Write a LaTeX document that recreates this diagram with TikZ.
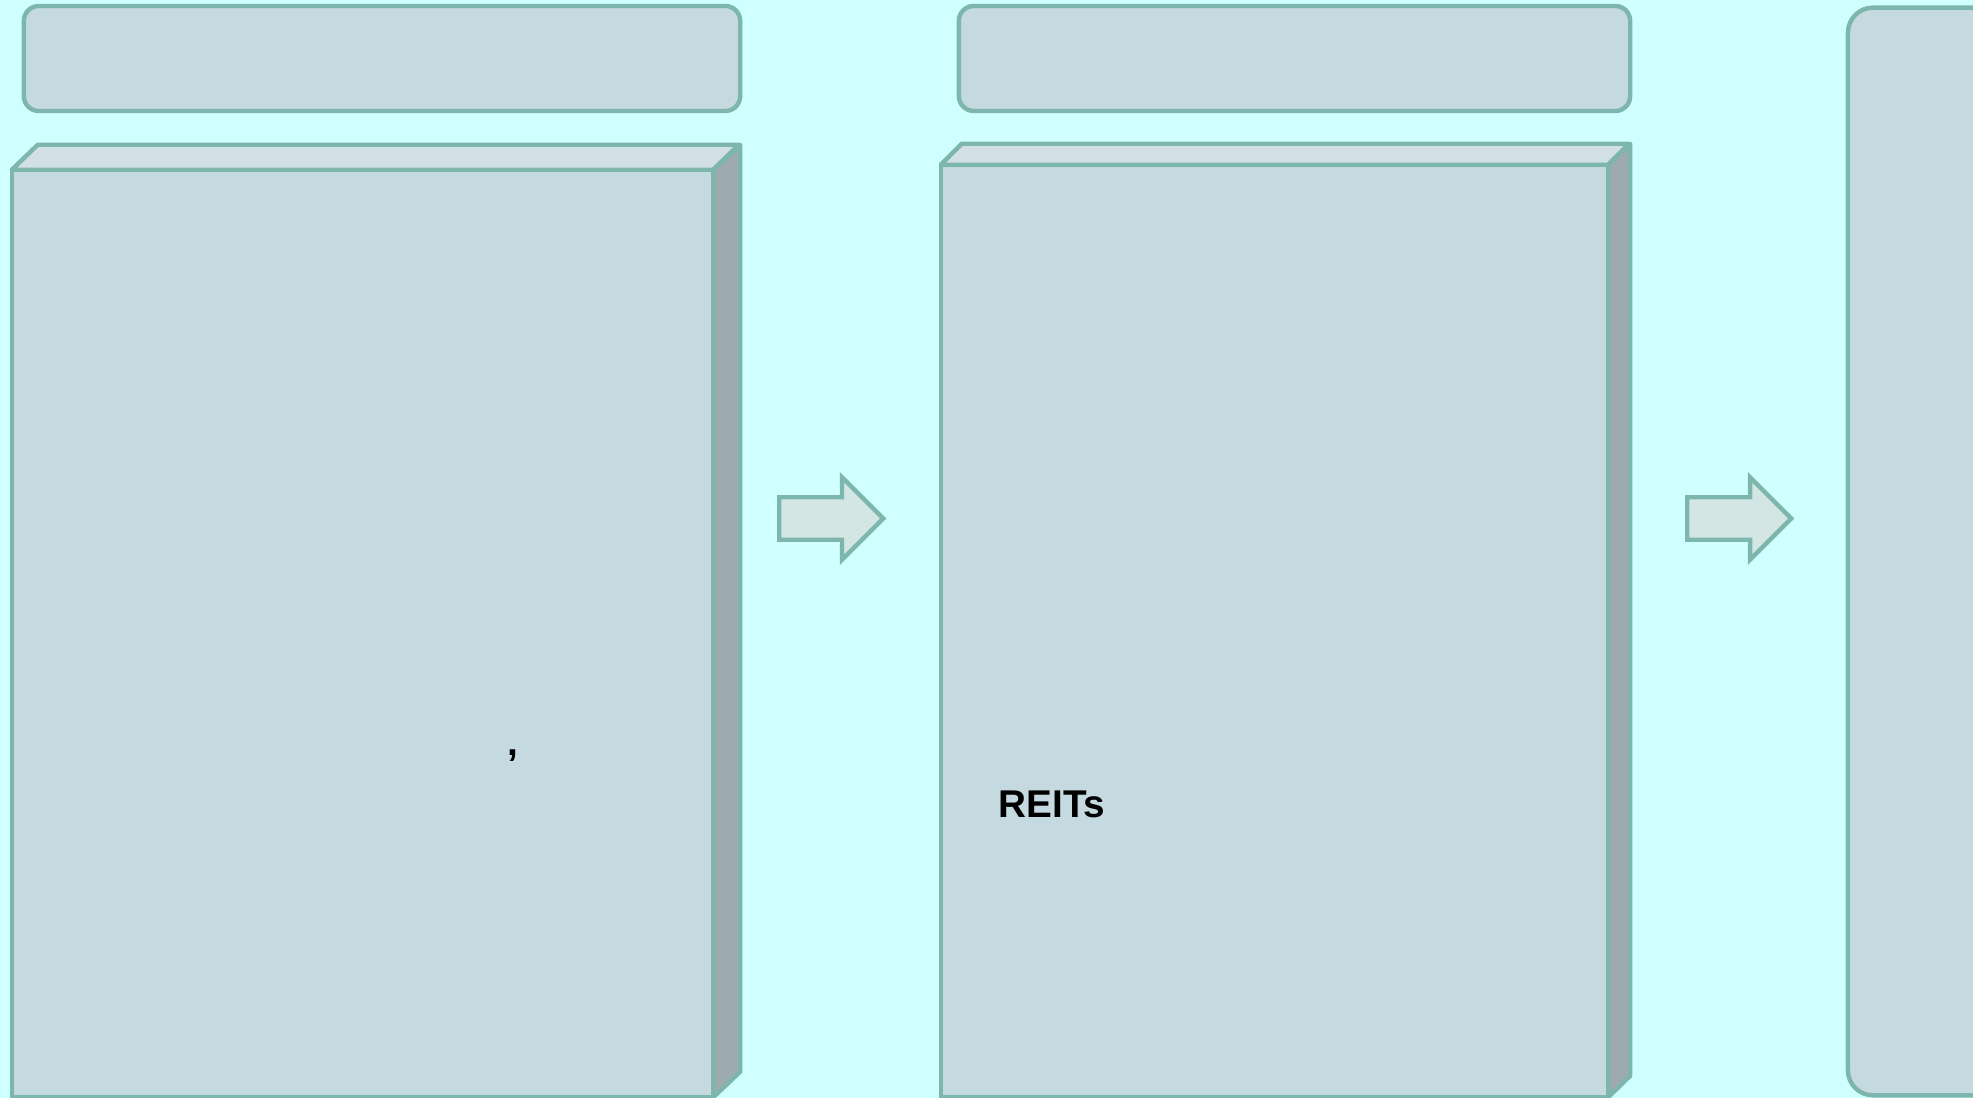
\documentclass[tikz,border=0pt]{standalone}
\usepackage{fontspec}
\setmainfont{Liberation Sans}
\usetikzlibrary{positioning}
\usetikzlibrary{shapes.arrows}
\definecolor{bgcyan}{RGB}{208,255,255}
\definecolor{boxblue}{RGB}{197,217,224}
\definecolor{topblue}{RGB}{210,223,229}
\definecolor{sidegrey}{RGB}{157,171,176}
\definecolor{edgegreen}{RGB}{125,182,172}
\definecolor{arrowfill}{RGB}{212,230,228}
\tikzset{
	head box/.style={rectangle,draw=edgegreen,fill=boxblue,line width=1.25pt,
		rounded corners=0.15cm,outer sep=0pt},
	front face/.style={rectangle,draw=edgegreen,fill=boxblue,line width=1.25pt,outer sep=0pt},
	top face/.style={draw=edgegreen,fill=topblue,line width=1.25pt,line join=round},
	side face/.style={draw=edgegreen,fill=sidegrey,line width=1.25pt,line join=round},
	block arrow/.style={single arrow,draw=edgegreen,fill=arrowfill,line width=1.25pt,
		minimum height=1.04cm,inner xsep=0pt,inner ysep=0.19cm,
		single arrow head extend=0.2cm,single arrow tip angle=90,anchor=tail},
	label text/.style={font=\bfseries\fontsize{11}{13}\selectfont,inner sep=0pt}
}

\begin{document}
\begin{tikzpicture}[x=0.01cm,y=-0.01cm]
	\fill[bgcyan] (0,0) rectangle (1973,1098);
	\useasboundingbox (0,0) rectangle (1973,1098);
	% column one
	\node [head box,minimum width=7.16cm,minimum height=1.05cm] (head1) at (382,58.5) {};
	\node [front face,minimum width=7.01cm,minimum height=9.27cm] (front1) at (362.5,633.5) {};
	\draw [top face] (front1.north west) -- ++(26,-25) -- ++(701,0) -- (front1.north east) -- cycle;
	\draw [side face] (front1.north east) -- ++(27,-25) -- ++(0,927) -- (front1.south east) -- cycle;
	\node [label text] (comma1) at (513,756) {,};
	% arrow one
	\node [block arrow] (arrow1) at (777,518.5) {};
	% column two
	\node [head box,minimum width=6.71cm,minimum height=1.05cm] (head2) at (1294.5,58.5) {};
	\node [front face,minimum width=6.67cm,minimum height=9.32cm] (front2) at (1274.5,631) {};
	\draw [top face] (front2.north west) -- ++(21,-21) -- ++(667,0) -- (front2.north east) -- cycle;
	\draw [side face] (front2.north east) -- ++(22,-21) -- ++(0,932) -- (front2.south east) -- cycle;
	\node [label text,anchor=base west] (reits) at (998,818) {REITs};
	% arrow two
	\node [block arrow] (arrow2) at (1685,518.5) {};
	% column three
	\node [head box,rounded corners=0.25cm,minimum width=3cm,minimum height=10.87cm] (head3) at (1998,551.5) {};
\end{tikzpicture}
\end{document}
